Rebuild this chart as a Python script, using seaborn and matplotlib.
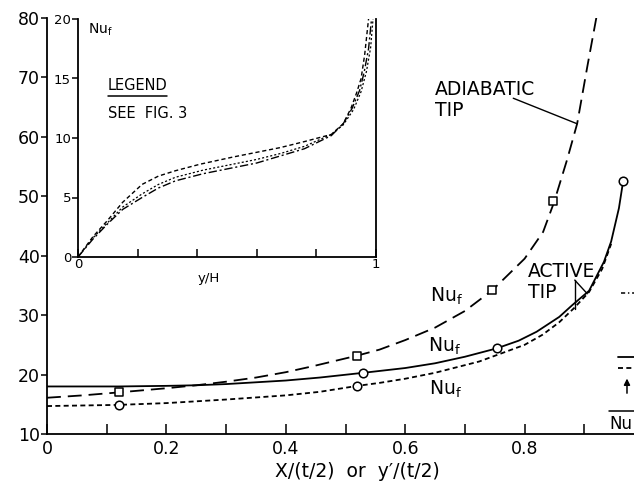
import numpy as np
import pandas as pd
import matplotlib
matplotlib.use("Agg")
import matplotlib.pyplot as plt
import seaborn as sns

# ---------------- data ----------------
# main plot: adiabatic tip (long dashes, squares)
adiab_x = [0, 0.06, 0.12, 0.2, 0.25, 0.3, 0.35, 0.4, 0.445, 0.52, 0.557, 0.6, 0.65, 0.7,
           0.746, 0.8, 0.831, 0.849, 0.871, 0.888, 0.905, 0.921]
adiab_y = [16.1, 16.5, 17.0, 17.7, 18.2, 18.8, 19.5, 20.4, 21.4, 23.2, 24.2, 25.8, 27.9, 30.7,
           34.2, 39.5, 44.0, 48.9, 56.1, 62.2, 71.8, 80.5]
adiab_mx = [0.12, 0.52, 0.746, 0.848]
adiab_my = [17.0, 23.2, 34.2, 49.2]

# active tip, solid line with circles
solid_x = [0, 0.12, 0.2, 0.25, 0.3, 0.35, 0.4, 0.457, 0.53, 0.6, 0.65, 0.7, 0.753, 0.79,
           0.82, 0.858, 0.88, 0.908, 0.933, 0.945, 0.958, 0.965]
solid_y = [18.0, 18.0, 18.1, 18.2, 18.4, 18.7, 19.0, 19.5, 20.3, 21.1, 21.9, 23.0, 24.4, 25.7,
           27.2, 29.7, 31.7, 34.1, 39.0, 42.4, 48.0, 52.5]
solid_mx = [0.53, 0.753, 0.965]
solid_my = [20.3, 24.4, 52.5]

# short dashes with circles
sdash_x = [0, 0.12, 0.2, 0.3, 0.4, 0.457, 0.52, 0.557, 0.6, 0.65, 0.724, 0.8, 0.83, 0.858,
           0.883, 0.908, 0.93, 0.945]
sdash_y = [14.7, 14.9, 15.2, 15.8, 16.5, 17.1, 18.1, 18.6, 19.3, 20.3, 22.2, 25.0, 26.7, 28.8,
           31.2, 33.9, 37.8, 42.0]
sdash_mx = [0.12, 0.52]
sdash_my = [14.9, 18.1]

# inset curves (Nu_f vs y/H)
ins_x1 = [0, 0.05, 0.1, 0.15, 0.215, 0.27, 0.327, 0.41, 0.52, 0.6, 0.68, 0.76, 0.85, 0.89,
          0.916, 0.935, 0.95, 0.962, 0.975]
ins_y1 = [0, 1.7, 3.1, 4.6, 6.1, 6.8, 7.25, 7.8, 8.4, 8.8, 9.2, 9.7, 10.3, 11.2, 12.5, 13.8,
          15.0, 17.0, 20.0]
ins_x2 = [0, 0.05, 0.1, 0.15, 0.215, 0.27, 0.327, 0.42, 0.52, 0.6, 0.68, 0.76, 0.85, 0.89,
          0.92, 0.945, 0.96, 0.975, 0.985]
ins_y2 = [0, 1.5, 2.8, 4.0, 5.0, 5.8, 6.4, 7.0, 7.5, 7.9, 8.5, 9.1, 10.2, 11.2, 12.5, 14.0,
          15.5, 17.5, 20.0]
ins_x3 = [0, 0.05, 0.1, 0.15, 0.215, 0.27, 0.327, 0.42, 0.52, 0.6, 0.68, 0.76, 0.85, 0.89,
          0.925, 0.95, 0.968, 0.982, 0.99]
ins_y3 = [0, 1.6, 2.9, 4.2, 5.3, 6.1, 6.7, 7.3, 7.8, 8.2, 8.7, 9.3, 10.3, 11.1, 12.4, 13.9,
          15.6, 17.6, 20.0]

main_xticks = [0, 0.2, 0.4, 0.6, 0.8, 1.0]
main_xticklabels = ["0", "0.2", "0.4", "0.6", "0.8", ""]
main_xminor = [0.1, 0.3, 0.5, 0.7, 0.9]
main_yticks = [10, 20, 30, 40, 50, 60, 70, 80]
ins_xticks = [0, 0.2, 0.4, 0.6, 0.8, 1.0]
ins_xticklabels = ["0", "", "", "", "", "1"]
ins_yticks = [0, 5, 10, 15, 20]

# ---------------- style ----------------
sns.set_style("ticks")
plt.rcParams["font.family"] = ["DejaVu Sans"]
plt.rcParams["lines.scale_dashes"] = False
plt.rcParams["mathtext.default"] = "regular"
for k in ["text.color", "axes.labelcolor", "xtick.color", "ytick.color", "axes.edgecolor"]:
    plt.rcParams[k] = "black"

W, H = 634, 486
fig = plt.figure(figsize=(W / 100, H / 100), dpi=100)
fig.patch.set_facecolor("white")

# main axes (right part of original is cropped off the figure)
ax = fig.add_axes([47 / W, 1 - 434 / H, 597 / W, (434 - 18) / H])
ax.set_xlim(0, 1)
ax.set_ylim(10, 80)

LW = 1.3
sns.lineplot(x=adiab_x, y=adiab_y, ax=ax, color="k", lw=LW, sort=False, estimator=None,
             linestyle=(0, (10, 5)))
sns.lineplot(x=solid_x, y=solid_y, ax=ax, color="k", lw=LW, sort=False, estimator=None)
sns.lineplot(x=sdash_x, y=sdash_y, ax=ax, color="k", lw=LW, sort=False, estimator=None,
             linestyle=(0, (3.6, 2.4)))
sns.scatterplot(x=adiab_mx, y=adiab_my, ax=ax, marker="s", s=34, facecolor="white",
                edgecolor="k", linewidth=1.1, zorder=5)
sns.scatterplot(x=solid_mx + sdash_mx, y=solid_my + sdash_my, ax=ax, marker="o", s=38,
                facecolor="white", edgecolor="k", linewidth=1.1, zorder=5)

for s in ["top", "right"]:
    ax.spines[s].set_visible(False)
for s in ["left", "bottom"]:
    ax.spines[s].set_linewidth(1.3)
    ax.spines[s].set_color("k")

ax.set_xticks(main_xticks)
ax.set_xticklabels(main_xticklabels)
ax.set_xticks(main_xminor, minor=True)
ax.set_yticks(main_yticks)
ax.tick_params(axis="x", which="both", direction="in", length=7, width=1.1, labelsize=12.5,
               pad=4, colors="k")
ax.tick_params(axis="y", direction="out", length=4, width=1.1, labelsize=12.5, pad=1,
               colors="k")
ax.set_xlabel("")
ax.set_ylabel("")

fig.text(357 / W, 1 - 471 / H, "X/(t/2)  or  y\u2032/(t/2)", ha="center", va="center",
         fontsize=13.5, color="k")

# annotations
ax.text(0.65, 69.6, "ADIABATIC\nTIP", ha="left", va="top", fontsize=13.5, linespacing=1.15,
        color="k")
ax.plot([0.781, 0.888], [66.5, 62.2], color="k", lw=1.0)
ax.text(0.806, 38.9, "ACTIVE\nTIP", ha="left", va="top", fontsize=13.5, linespacing=1.1,
        color="k")
ax.plot([0.884, 0.884], [31.0, 35.9], color="k", lw=1.0)
ax.plot([0.884, 0.905], [35.9, 33.6], color="k", lw=1.0)
ax.text(0.6415, 32.2, "Nu$_{f}$", ha="left", va="baseline", fontsize=13.5, color="k")
ax.text(0.638, 23.9, "Nu$_{f}$", ha="left", va="baseline", fontsize=13.5, color="k")
ax.text(0.640, 16.6, "Nu$_{f}$", ha="left", va="baseline", fontsize=13.5, color="k")

# cropped legend fragments at the right edge
ax.plot([0.962, 1.0], [33.7, 33.7], color="k", lw=1.1, linestyle=(0, (3, 2, 1, 2)), clip_on=False)
ax.plot([0.956, 1.0], [23.0, 23.0], color="k", lw=1.3, clip_on=False)
ax.plot([0.956, 1.0], [21.1, 21.1], color="k", lw=1.3, linestyle=(0, (3.6, 2.4)), clip_on=False)
ax.annotate("", xy=(0.9715, 19.8), xytext=(0.9715, 16.4),
            arrowprops=dict(arrowstyle="-|>", color="k", lw=1.1, mutation_scale=9))
ax.text(0.942, 10.8, "Nu", ha="left", va="baseline", fontsize=12, color="k")
ax.plot([0.942, 1.0], [13.8, 13.8], color="k", lw=1.1, clip_on=False)

# ---------------- inset ----------------
ax2 = fig.add_axes([78 / W, 1 - 257 / H, 298 / W, (257 - 19) / H])
ax2.set_facecolor("none")
ax2.set_xlim(0, 1)
ax2.set_ylim(0, 20)
sns.lineplot(x=ins_x1, y=ins_y1, ax=ax2, color="k", lw=1.0, sort=False, estimator=None,
             linestyle=(0, (3, 2)))
sns.lineplot(x=ins_x2, y=ins_y2, ax=ax2, color="k", lw=1.0, sort=False, estimator=None,
             linestyle=(0, (6, 2, 1.5, 2)))
sns.lineplot(x=ins_x3, y=ins_y3, ax=ax2, color="k", lw=0.9, sort=False, estimator=None,
             linestyle=(0, (1.5, 1.5)))
ax2.spines["top"].set_visible(False)
for s in ["left", "bottom", "right"]:
    ax2.spines[s].set_linewidth(1.3)
    ax2.spines[s].set_color("k")
ax2.set_xticks(ins_xticks)
ax2.set_xticklabels(ins_xticklabels)
ax2.set_yticks(ins_yticks)
ax2.tick_params(axis="x", direction="in", length=6, width=1.1, labelsize=9.5, pad=1,
                colors="k")
ax2.tick_params(axis="y", direction="out", length=4, width=1.1, labelsize=9.5, pad=1,
                colors="k")
ax2.set_xlabel("")
ax2.set_ylabel("")
ax2.text(0.035, 0.94, "Nu$_{f}$", transform=ax2.transAxes, ha="left", va="baseline",
         fontsize=10, color="k")
ax2.text(0.10, 0.70, "LEGEND", transform=ax2.transAxes, ha="left", va="baseline",
         fontsize=10.5, color="k")
ax2.plot([0.10, 0.30], [0.676, 0.676], transform=ax2.transAxes, color="k", lw=1.1)
ax2.text(0.10, 0.585, "SEE  FIG. 3", transform=ax2.transAxes, ha="left", va="baseline",
         fontsize=10.5, color="k")
ax2.text(0.44, -0.09, "y/H", transform=ax2.transAxes, ha="center", va="center",
         fontsize=9.5, color="k")

fig.savefig("out.png", dpi=100, facecolor="white")
